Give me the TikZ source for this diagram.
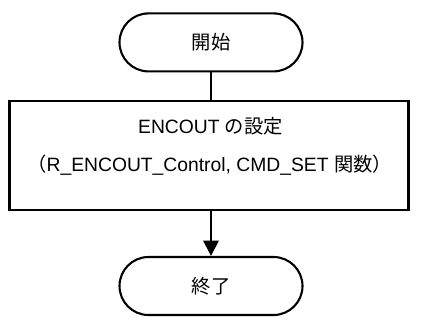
\documentclass[tikz,border=0pt]{standalone}
\usepackage{fontspec}
\setmainfont{Liberation Sans}
\newfontfamily\jp{Noto Sans CJK JP}
\usetikzlibrary{arrows.meta}
\begin{document}
\begin{tikzpicture}[x=1pt,y=-1pt,
  term/.style={draw,line width=2.1pt,rounded corners=29pt,minimum width=183pt,minimum height=58pt,inner sep=0pt,font=\fontsize{19.3}{23}\selectfont},
  proc/.style={draw,line width=2.1pt,minimum width=399pt,minimum height=109pt,inner sep=0pt},
  txt/.style={inner sep=0pt,font=\fontsize{19.3}{23}\selectfont},
  conn/.style={line width=2.1pt},
  arr/.style={line width=2.1pt,-{Triangle[width=15.4pt,length=15.4pt]}}]
\useasboundingbox (0,0) rectangle (428,327);
\node[term] (start) at (211,42.4) {\jp 開始};
\node[proc] (box) at (209,155.5) {};
\node[txt] (l1) at (210.5,126.6) {ENCOUT {\jp の設定}};
\node[txt] (l2) at (209.6,165.1) {{\jp （}R\_ENCOUT\_Control, CMD\_SET {\jp 関数）}};
\node[term] (end) at (211,286) {\jp 終了};
\draw[conn] (start.south) -- (start.south |- box.north);
\draw[arr] (end.north |- box.south) -- (end.north);
\end{tikzpicture}
\end{document}
